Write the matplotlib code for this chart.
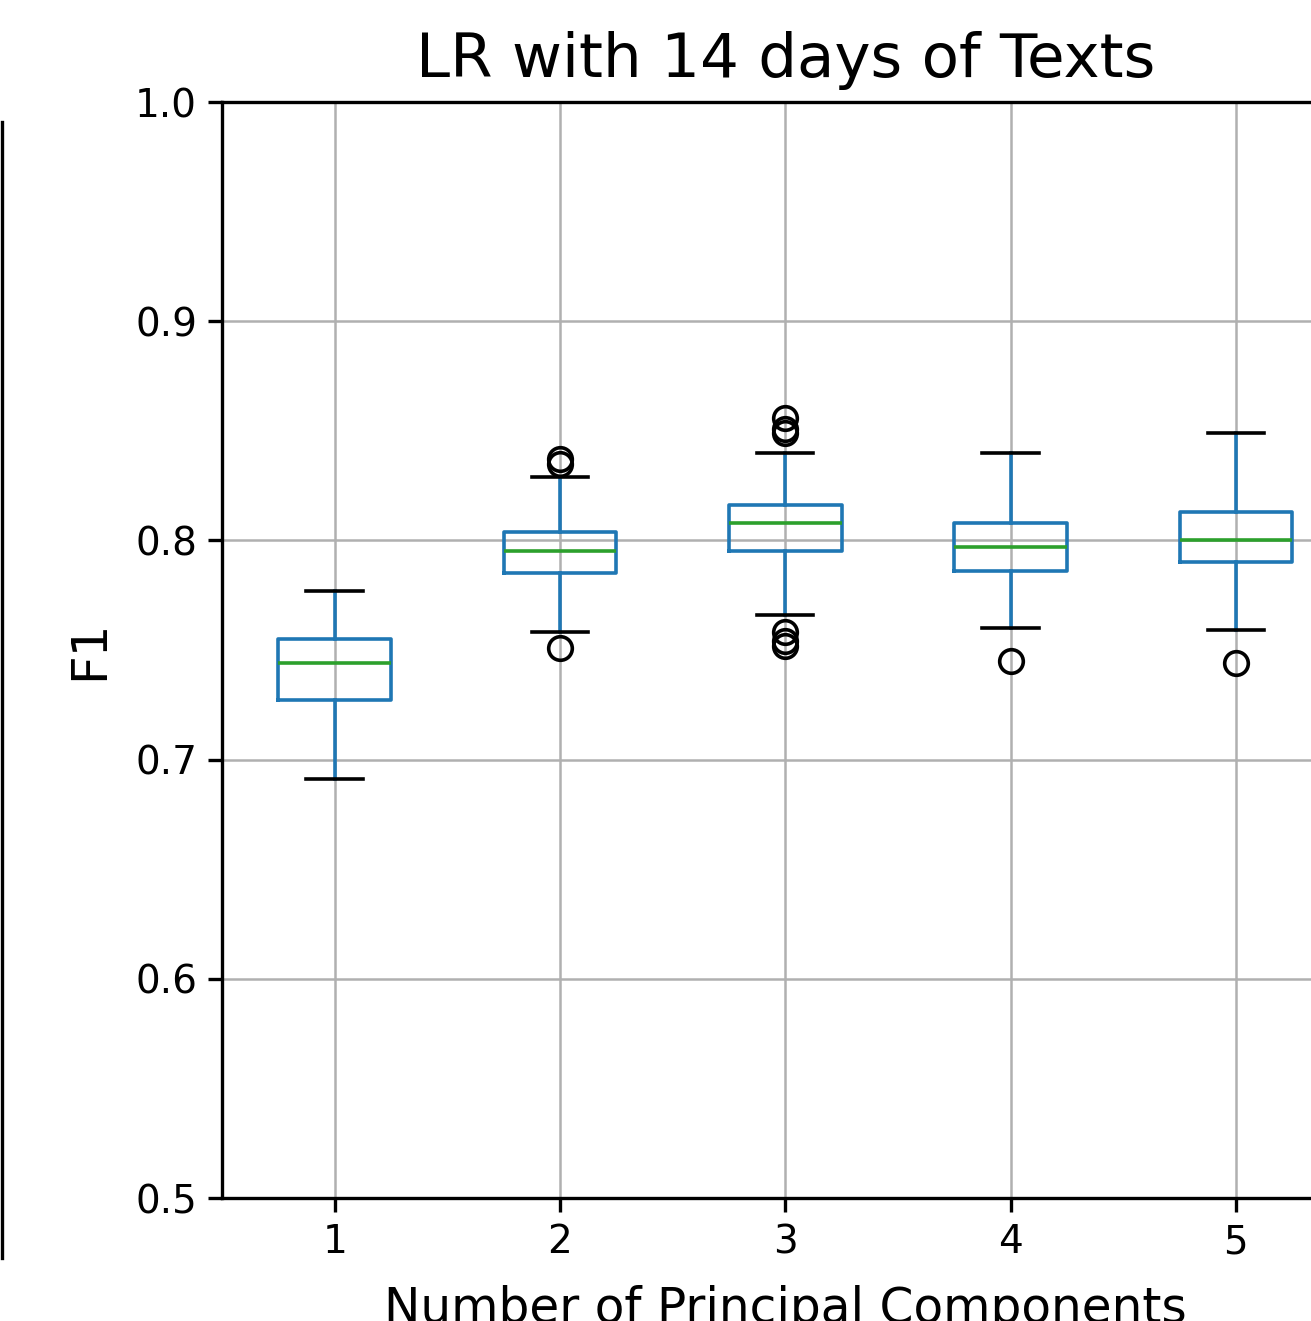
import matplotlib
matplotlib.use("Agg")
import matplotlib.pyplot as plt
from matplotlib.lines import Line2D

# box statistics (F1 per number of PCs)
n_pcs = [1, 2, 3, 4, 5]
q1 = [0.727, 0.785, 0.795, 0.786, 0.790]
med = [0.744, 0.795, 0.808, 0.797, 0.800]
q3 = [0.755, 0.804, 0.816, 0.808, 0.813]
whislo = [0.691, 0.758, 0.766, 0.760, 0.759]
whishi = [0.777, 0.829, 0.840, 0.840, 0.849]
fliers = [
    [],
    [0.837, 0.835, 0.751],
    [0.856, 0.851, 0.849, 0.758, 0.754, 0.752],
    [0.745],
    [0.744],
]

stats = []
for i in range(len(n_pcs)):
    stats.append(dict(label=str(n_pcs[i]), q1=q1[i], med=med[i], q3=q3[i],
                      whislo=whislo[i], whishi=whishi[i], fliers=fliers[i]))

W, H = 1311, 1321
fig = plt.figure(figsize=(W / 100, H / 100), dpi=100)
ax = fig.add_axes([222 / W, (H - 1198) / H, 1126.5 / W, 1096 / H])

lw = 2.6
ax.bxp(stats, positions=n_pcs, widths=0.5,
       boxprops=dict(color='#1f77b4', linewidth=lw),
       whiskerprops=dict(color='#1f77b4', linewidth=lw),
       capprops=dict(color='black', linewidth=lw),
       medianprops=dict(color='#2ca02c', linewidth=lw),
       flierprops=dict(marker='o', markerfacecolor='none', markeredgecolor='black',
                       markersize=17, markeredgewidth=2.6))

ax.set_xlim(0.5, 5.5)
ax.set_ylim(0.5, 1.0)
ax.set_yticks([0.5, 0.6, 0.7, 0.8, 0.9, 1.0])
ax.grid(True, color='#b0b0b0', linewidth=1.8)
ax.set_axisbelow(True)
for s in ax.spines.values():
    s.set_linewidth(2.4)
ax.tick_params(labelsize=28, length=10, width=2.4, pad=8)
ax.set_title('LR with 14 days of Texts', fontsize=44, pad=18)
ax.set_xlabel('Number of Principal Components', fontsize=35, labelpad=17)
ax.set_ylabel('F1', fontsize=36, labelpad=16)

# right spine of the neighbouring panel, cut by the crop
fig.add_artist(Line2D([1.5 / W, 1.5 / W], [1 - 122 / H, 1 - 1258 / H],
                      transform=fig.transFigure, color='black', linewidth=2.4))

fig.savefig('out.png', dpi=100)
